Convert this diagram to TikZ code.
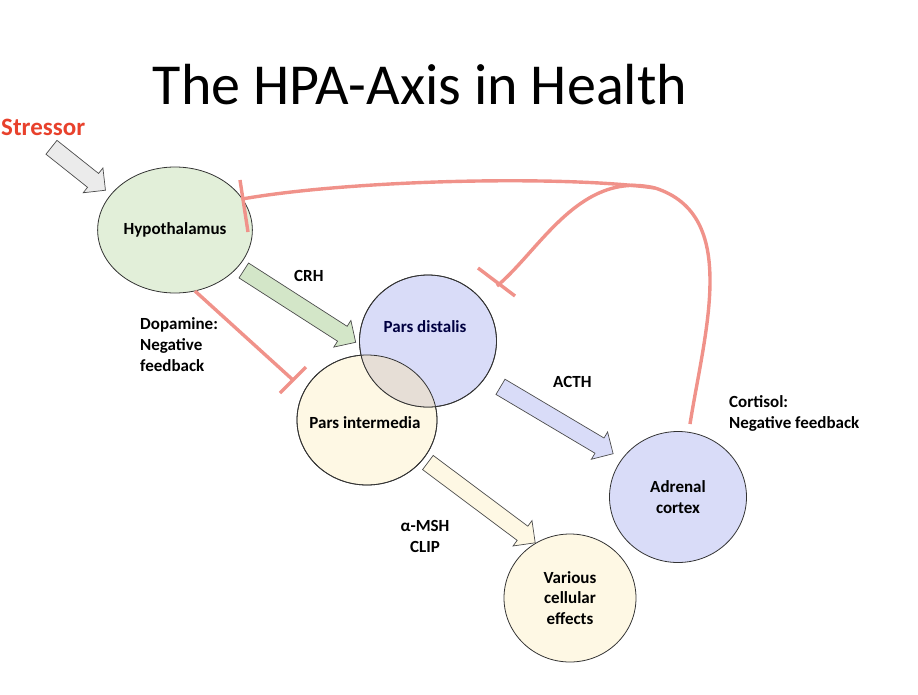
\documentclass[tikz,border=0pt]{standalone}
\usepackage{fontspec}
\setmainfont{Carlito}
\usetikzlibrary{shapes.arrows,shapes.geometric}
\definecolor{fb}{HTML}{F0928A}
\definecolor{hyp}{HTML}{E2EFD9}
\definecolor{blu}{HTML}{D9DCF8}
\definecolor{cre}{HTML}{FEF8E4}
\definecolor{ovl}{HTML}{E6DED6}
\definecolor{str}{HTML}{E8412C}
\definecolor{crhc}{HTML}{D3E6C8}
\begin{document}
\begin{tikzpicture}[x=1pt,y=-1pt,
  organ/.style={draw=black!80,line width=0.8pt,ellipse,font=\fontsize{17}{20.5}\selectfont\bfseries,align=center},
  lbl/.style={font=\fontsize{17}{21}\selectfont\bfseries,align=left,anchor=north west,inner sep=0},
  barrow/.style={single arrow,draw=black!70,line width=0.7pt,single arrow head extend=7pt,inner sep=0,minimum width=0pt}]
\useasboundingbox (0,0) rectangle (918,694);
\node[font=\fontsize{58}{66}\selectfont] (title) at (420,85) {The HPA-Axis in Health};
\node[font=\fontsize{25}{28}\selectfont\bfseries,text=str,anchor=west,inner sep=0] (stress) at (1,127) {Stressor};
% block arrows
\node[barrow,fill=black!8,minimum height=69pt,rotate=-38.5] (sa) at (75,166) {\rule{0pt}{17pt}};
\node[barrow,fill=crhc,minimum height=133pt,rotate=-32.7] (crh) at (296,304) {\rule{0pt}{17pt}};
\node[barrow,fill=blu,minimum height=131pt,rotate=-30.7] (acth) at (553,418) {\rule{0pt}{17pt}};
\node[barrow,fill=cre,minimum height=134pt,rotate=-36.8] (msh) at (478,500) {\rule{0pt}{17pt}};
% organs
\node[organ,fill=hyp,minimum width=150pt,minimum height=126pt] (hyp) at (175,230) {Hypothalamus};
\node[organ,fill=cre,minimum width=140pt,minimum height=130pt] (pi) at (367,420) {};
\node[organ,fill=blu,minimum width=137pt,minimum height=132pt] (pd) at (428,341) {};
\begin{scope}
\clip (367,420) ellipse [x radius=70,y radius=65];
\fill[ovl] (428,341) ellipse [x radius=68.5,y radius=66];
\end{scope}
\draw[black!80,line width=0.8pt] (367,420) ellipse [x radius=70,y radius=65];
\draw[black!80,line width=0.8pt] (428,341) ellipse [x radius=68.5,y radius=66];
\node[font=\fontsize{17}{20.5}\selectfont\bfseries,text=black!75!blue] (pdl) at (425,327) {Pars distalis};
\node[font=\fontsize{17}{20.5}\selectfont\bfseries] (pil) at (365,423) {Pars intermedia};
\node[organ,fill=blu,minimum width=137pt,minimum height=131pt] (adr) at (678,497) {Adrenal\\cortex};
\node[organ,fill=cre,minimum width=132pt,minimum height=128pt] (var) at (570,598) {Various\\cellular\\effects};
% labels
\node[lbl] (crhl) at (294,270) {CRH};
\node[lbl] (acthl) at (553,376) {ACTH};
\node[lbl,align=center,anchor=north] (mshl) at (425,520) {α-MSH\\CLIP};
\node[lbl] (dopl) at (140,317) {Dopamine:\\Negative\\feedback};
\node[lbl] (cortl) at (729,395) {Cortisol:\\Negative feedback};
% feedback lines
\tikzset{fbl/.style={draw=fb,line width=3.4pt}}
\coordinate (d1) at (195,291);
\coordinate (d2) at (293,380);
\draw[fbl] (d1) -- (d2);
\draw[fbl] (280,393) -- (306,367);
\coordinate (a1) at (690,424);
\coordinate (j) at (655,188);
\coordinate (h1) at (242,199);
\draw[fbl] (a1) .. controls (705,330) and (740,215) .. (j) .. controls (560,175) and (350,180) .. (h1);
\draw[fbl] (240,180) -- (248,232);
\coordinate (p1) at (497,286);
\draw[fbl] (j) .. controls (580,170) and (540,250) .. (p1);
\draw[fbl] (478,268) -- (515,296);
\end{tikzpicture}
\end{document}
